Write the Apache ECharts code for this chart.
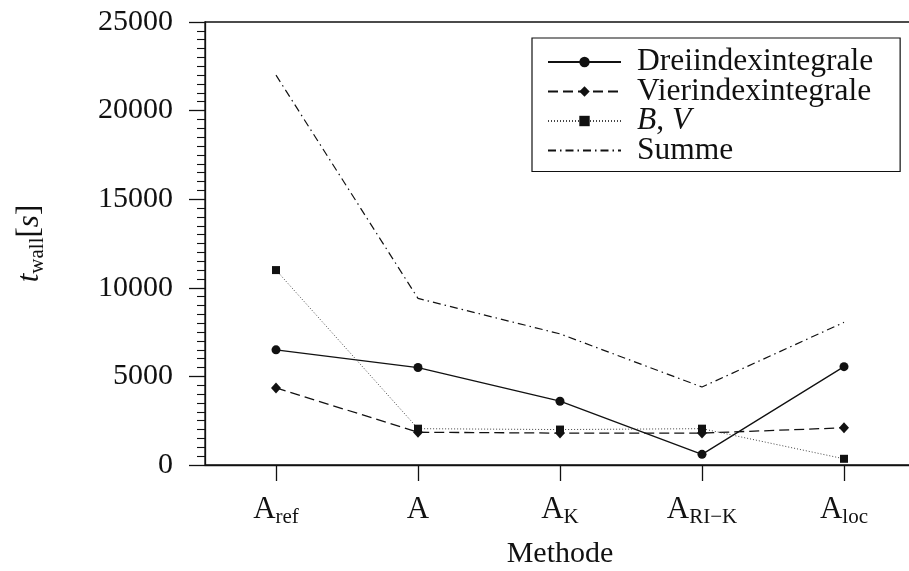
<!DOCTYPE html>
<html>
<head>
<meta charset="utf-8">
<script src="https://cdn.jsdelivr.net/npm/echarts@6/dist/echarts.min.js"></script>
<style>
  html, body { margin: 0; padding: 0; background: #fff; }
  #chart { width: 909px; height: 571px; }
</style>
</head>
<body>
<div id="chart"></div>
<script>
// Methods compared (main symbol + subscript)
const methods = [
  { main: 'A', sub: 'ref' },
  { main: 'A', sub: '' },
  { main: 'A', sub: 'K' },
  { main: 'A', sub: 'RI\u2212K' },
  { main: 'A', sub: 'loc' }
];

// Wall-clock time in seconds per method
const dreiindex = [6500, 5500, 3600, 600, 5550];
const vierindex = [4350, 1850, 1800, 1800, 2100];
const bv = [11000, 2050, 2000, 2050, 350];
const summe = [22000, 9400, 7400, 4400, 8050];

const yTicks = { min: 0, max: 25000, interval: 5000 };

const FONT = '"Liberation Serif", "DejaVu Serif", serif';
const INK = '#111';

const categories = methods.map((m, i) => String(i));

const chart = echarts.init(document.getElementById('chart'), null, { renderer: 'canvas' });

const option = {
  backgroundColor: '#fff',
  animation: false,
  textStyle: { fontFamily: FONT, color: INK },
  grid: {
    left: 205, right: -6, top: 22, bottom: 106,
    outerBoundsMode: 'none',
    containLabel: false,
    show: true, borderColor: INK, borderWidth: 1.3, backgroundColor: 'transparent'
  },
  legend: {
    orient: 'vertical',
    left: 532, top: 38,
    padding: [8, 27, 5, 15],
    itemWidth: 73, itemHeight: 13, itemGap: -2.5,
    borderColor: INK, borderWidth: 1.2,
    textStyle: { fontFamily: FONT, fontSize: 31.5, color: INK, padding: [0, 0, 0, 11] },
    formatter: function (name) {
      return name === 'B,V' ? '{i|B}{n|, }{i|V}' : name;
    },
    data: [
      'Dreiindexintegrale',
      'Vierindexintegrale',
      'B,V',
      { name: 'Summe', itemStyle: { opacity: 0 } }
    ]
  },
  xAxis: {
    type: 'category',
    data: categories,
    boundaryGap: true,
    name: 'Methode',
    nameLocation: 'middle',
    nameGap: 74,
    nameTextStyle: { fontFamily: FONT, fontSize: 30, color: INK },
    axisLine: { lineStyle: { color: INK, width: 1.3 } },
    axisTick: { show: true, alignWithLabel: true, length: 16, lineStyle: { color: INK, width: 1.3 } },
    axisLabel: {
      margin: 28,
      fontFamily: FONT,
      formatter: function (v) {
        const m = methods[Number(v)];
        return m.sub ? '{a|' + m.main + '}{s|' + m.sub + '}' : '{a|' + m.main + '}';
      },
      rich: {
        a: { fontFamily: FONT, fontSize: 31, color: INK, lineHeight: 34 },
        s: { fontFamily: FONT, fontSize: 21, color: INK, lineHeight: 34, padding: [14, 0, 0, 0] }
      }
    },
    splitLine: { show: false }
  },
  yAxis: {
    type: 'value',
    min: yTicks.min, max: yTicks.max, interval: yTicks.interval,
    name: '{t|t}{w|wall}{b|[}{s|s}{b|]}',
    nameLocation: 'middle',
    nameRotate: 90,
    nameGap: 158,
    nameTextStyle: {
      rich: {
        t: { fontFamily: FONT, fontStyle: 'italic', fontSize: 31, color: INK, lineHeight: 34 },
        w: { fontFamily: FONT, fontSize: 21, color: INK, lineHeight: 34, padding: [14, 0, 0, 0] },
        b: { fontFamily: FONT, fontSize: 31, color: INK, lineHeight: 34 },
        s: { fontFamily: FONT, fontStyle: 'italic', fontSize: 31, color: INK, lineHeight: 34 }
      }
    },
    axisLine: { show: true, lineStyle: { color: INK, width: 1.3 } },
    axisTick: { show: true, inside: false, length: 16, lineStyle: { color: INK, width: 1.3 } },
    minorTick: { show: true, splitNumber: 10, length: 8, lineStyle: { color: INK, width: 1.1 } },
    axisLabel: {
      margin: 32, fontFamily: FONT, fontSize: 30, color: INK,
      formatter: function (v) { return String(v); }
    },
    splitLine: { show: false }
  },
  series: [
    {
      name: 'Dreiindexintegrale', type: 'line', data: dreiindex,
      symbol: 'circle', symbolSize: 9,
      lineStyle: { color: INK, width: 1.3, type: 'solid' },
      itemStyle: { color: INK }
    },
    {
      name: 'Vierindexintegrale', type: 'line', data: vierindex,
      symbol: 'diamond', symbolSize: [10, 11],
      lineStyle: { color: INK, width: 1.3, type: [10, 5] },
      itemStyle: { color: INK }
    },
    {
      name: 'B,V', type: 'line', data: bv,
      symbol: 'rect', symbolSize: 8,
      lineStyle: { color: '#444', width: 1, type: [1, 2] },
      itemStyle: { color: INK }
    },
    {
      name: 'Summe', type: 'line', data: summe,
      symbol: 'none',
      lineStyle: { color: INK, width: 1.2, type: [8, 4, 1.5, 4] },
      itemStyle: { color: INK }
    }
  ]
};

option.legend.textStyle.rich = {
  i: { fontFamily: FONT, fontStyle: 'italic', fontSize: 31.5, color: INK },
  n: { fontFamily: FONT, fontSize: 31.5, color: INK }
};

chart.setOption(option);
</script>
</body>
</html>
